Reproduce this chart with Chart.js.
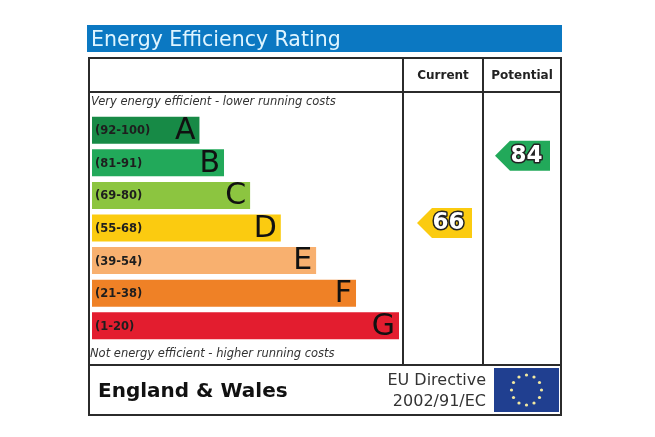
<!DOCTYPE html>
<html>
<head>
<meta charset="utf-8">
<script src="https://cdn.jsdelivr.net/npm/chart.js@4/dist/chart.umd.min.js"></script>
<style>
  html, body { margin: 0; padding: 0; background: #fff; }
  canvas { display: block; }
</style>
</head>
<body>
<canvas id="epcChart" width="655" height="437"></canvas>
<script>
// bands, top (most efficient) to bottom
const bands = ['A', 'B', 'C', 'D', 'E', 'F', 'G'];
const bandRanges = ['(92-100)', '(81-91)', '(69-80)', '(55-68)', '(39-54)', '(21-38)', '(1-20)'];
const bandMins = [92, 81, 69, 55, 39, 21, 1];
// relative bar length, G = 100
const barLengths = [35, 43, 51.5, 61.5, 73, 86, 100];
const bandColors = ['#178a46', '#22a95a', '#8cc540', '#fbcb10', '#f8b06f', '#ef8126', '#e31d2f'];

const currentRating = 66;
const potentialRating = 84;

const FONT = '"DejaVu Sans", Verdana, sans-serif';

function bandIndex(rating) {
    for (let i = 0; i < bandMins.length; i++) {
        if (rating >= bandMins[i]) return i;
    }
    return bandMins.length - 1;
}

function drawArrow(ctx, tipX, rightX, cy, color, value) {
    const h = 30, tip = 15;
    ctx.beginPath();
    ctx.moveTo(tipX, cy);
    ctx.lineTo(tipX + tip, cy - h / 2);
    ctx.lineTo(rightX, cy - h / 2);
    ctx.lineTo(rightX, cy + h / 2);
    ctx.lineTo(tipX + tip, cy + h / 2);
    ctx.closePath();
    ctx.fillStyle = color;
    ctx.fill();

    ctx.font = 'bold 23px ' + FONT;
    ctx.textAlign = 'center';
    ctx.textBaseline = 'middle';
    const tx = (tipX + rightX) / 2 + 4;
    ctx.lineWidth = 3;
    ctx.strokeStyle = '#222';
    ctx.lineJoin = 'round';
    ctx.strokeText(String(value), tx, cy);
    ctx.fillStyle = '#fff';
    ctx.fillText(String(value), tx, cy);
}

const epcFrame = {
    id: 'epcFrame',
    beforeDraw(chart) {
        const ctx = chart.ctx;
        ctx.save();
        ctx.fillStyle = '#fff';
        ctx.fillRect(0, 0, chart.width, chart.height);

        // title bar
        ctx.fillStyle = '#0b78c2';
        ctx.fillRect(87, 25, 475, 27);
        ctx.fillStyle = '#dff5ff';
        ctx.font = '20.5px ' + FONT;
        ctx.textAlign = 'left';
        ctx.textBaseline = 'alphabetic';
        ctx.fillText('Energy Efficiency Rating', 91, 46);

        // table lines
        ctx.strokeStyle = '#2b2b2b';
        ctx.lineWidth = 2;
        ctx.strokeRect(89, 58, 472, 357);
        ctx.beginPath();
        ctx.moveTo(89, 92); ctx.lineTo(561, 92);
        ctx.moveTo(89, 365); ctx.lineTo(561, 365);
        ctx.moveTo(403, 58); ctx.lineTo(403, 365);
        ctx.moveTo(483, 58); ctx.lineTo(483, 365);
        ctx.stroke();

        // headers
        ctx.fillStyle = '#222';
        ctx.font = 'bold 12px ' + FONT;
        ctx.textAlign = 'center';
        ctx.fillText('Current', 443, 79);
        ctx.fillText('Potential', 522, 79);

        // captions
        ctx.font = 'italic 11.5px ' + FONT;
        ctx.textAlign = 'left';
        ctx.fillStyle = '#333';
        ctx.fillText('Very energy efficient - lower running costs', 91, 105);
        ctx.fillText('Not energy efficient - higher running costs', 90, 357);

        // footer
        ctx.fillStyle = '#111';
        ctx.font = 'bold 20px ' + FONT;
        ctx.fillText('England & Wales', 98, 397);
        ctx.fillStyle = '#333';
        ctx.font = '16px ' + FONT;
        ctx.textAlign = 'right';
        ctx.fillText('EU Directive', 486, 385);
        ctx.fillText('2002/91/EC', 486, 406);

        // EU flag
        ctx.fillStyle = '#203f90';
        ctx.fillRect(494, 368, 65, 44);
        ctx.fillStyle = '#f3e9a0';
        for (let k = 0; k < 12; k++) {
            const a = k * Math.PI / 6;
            ctx.beginPath();
            ctx.arc(526.5 + 15 * Math.cos(a), 390 + 15 * Math.sin(a), 1.6, 0, Math.PI * 2);
            ctx.fill();
        }
        ctx.restore();
    },
    afterDatasetsDraw(chart) {
        const ctx = chart.ctx;
        const meta = chart.getDatasetMeta(0);
        const yScale = chart.scales.y;
        ctx.save();
        meta.data.forEach((bar, i) => {
            ctx.textBaseline = 'middle';
            ctx.textAlign = 'left';
            ctx.font = 'bold 11.5px ' + FONT;
            ctx.fillStyle = '#1e1e1e';
            ctx.fillText(bandRanges[i], 95, bar.y + 1);
            ctx.textAlign = 'right';
            ctx.font = '30px ' + FONT;
            ctx.fillStyle = '#111';
            ctx.fillText(bands[i], bar.x - 4, bar.y + 1);
        });

        const ci = bandIndex(currentRating);
        const pi = bandIndex(potentialRating);
        drawArrow(ctx, 417, 472, yScale.getPixelForValue(ci) - 5, bandColors[ci], currentRating);
        drawArrow(ctx, 495, 550, yScale.getPixelForValue(pi) - 7, bandColors[pi], potentialRating);
        ctx.restore();
    }
};

new Chart(document.getElementById('epcChart').getContext('2d'), {
    type: 'bar',
    data: {
        labels: bands,
        datasets: [{
            data: barLengths,
            backgroundColor: bandColors,
            borderWidth: 0,
            categoryPercentage: 1,
            barPercentage: 0.83
        }]
    },
    options: {
        indexAxis: 'y',
        responsive: false,
        animation: false,
        layout: {
            padding: { left: 92, right: 256, top: 114, bottom: 95 }
        },
        scales: {
            x: { display: false, min: 0, max: 100 },
            y: { display: false }
        },
        plugins: {
            legend: { display: false },
            tooltip: { enabled: false }
        }
    },
    plugins: [epcFrame]
});
</script>
</body>
</html>
